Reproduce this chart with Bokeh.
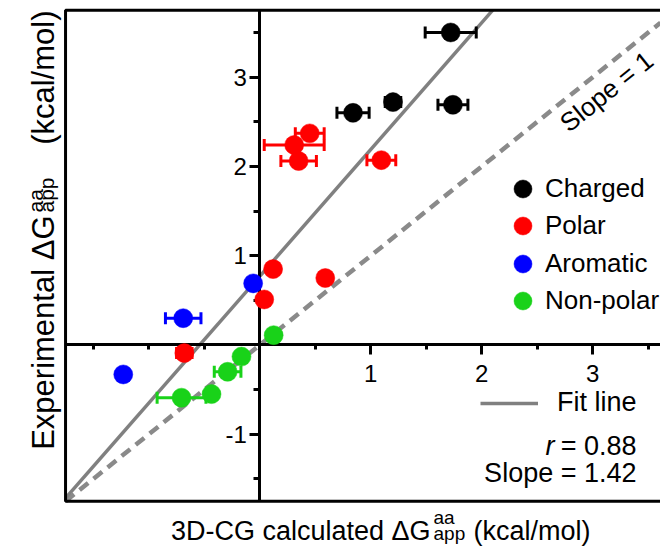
import math
from bokeh.plotting import figure
from bokeh.models import (ColumnDataSource, Range1d, LinearAxis, FixedTicker, Whisker,
                          TeeHead, BoxAnnotation, Legend, LegendItem, Label)
from bokeh.core.properties import value
from bokeh.embed import file_html
from bokeh.resources import INLINE

FONT = "Liberation Sans"

# ---------------- data ----------------
groups = ["Charged", "Polar", "Aromatic", "Non-polar"]
colors = ["#000000", "#ff0000", "#0000ff", "#19d219"]

charged_x = [1.72, 1.20, 1.74, 0.84]
charged_y = [3.50, 2.72, 2.69, 2.60]
charged_err = [0.23, 0.07, 0.135, 0.145]

polar_x = [1.095, 0.45, 0.31, 0.35, 0.12, 0.59, 0.04, -0.68]
polar_y = [2.07, 2.37, 2.24, 2.06, 0.85, 0.75, 0.51, -0.09]
polar_err = [0.13, 0.13, 0.27, 0.16, 0.0, 0.0, 0.0, 0.07]

arom_x = [-0.06, -0.69, -1.23]
arom_y = [0.69, 0.30, -0.33]
arom_err = [0.0, 0.16, 0.0]

nonpolar_x = [0.125, -0.165, -0.29, -0.435, -0.705]
nonpolar_y = [0.11, -0.13, -0.30, -0.55, -0.59]
nonpolar_err = [0.0, 0.0, 0.12, 0.0, 0.22]

fit_slope = 1.42
fit_intercept = 0.77
fit_r = 0.88
identity_slope = 1

# plotting box (data limits) and the visible canvas range around it
x_lim = (-1.75, 3.75)
y_lim = (-1.75, 3.75)
x_view = (-2.336, 3.61)
y_view = (-2.268, 3.858)

x_major = [1, 2, 3]
x_minor = [-1.5, -1, -0.5, 0.5, 1.5, 2.5, 3.5]
y_major = [-1, 1, 2, 3]
y_minor = [-1.5, -0.5, 0.5, 1.5, 2.5, 3.5]

series = [
    (groups[0], colors[0], charged_x, charged_y, charged_err),
    (groups[1], colors[1], polar_x, polar_y, polar_err),
    (groups[2], colors[2], arom_x, arom_y, arom_err),
    (groups[3], colors[3], nonpolar_x, nonpolar_y, nonpolar_err),
]

W, H = 660, 547

# ---------------- figure ----------------
p = figure(width=W, height=H,
           x_range=Range1d(*x_view), y_range=Range1d(*y_view),
           output_backend="svg", toolbar_location=None,
           x_axis_location=None, y_axis_location=None,
           min_border=0, min_border_left=0, min_border_right=0,
           min_border_top=0, min_border_bottom=0)
p.outline_line_color = None
p.background_fill_color = "white"
p.border_fill_color = "white"
p.grid.visible = False

# frame box (left, top, bottom sides visible; right side lies off-canvas)
p.add_layout(BoxAnnotation(left=x_lim[0], right=x_lim[1], bottom=y_lim[0], top=y_lim[1],
                           fill_alpha=0, line_color="black", line_alpha=1.0, line_width=3,
                           level="underlay"))

# axes crossing at the origin
yax = LinearAxis(fixed_location=0, bounds=y_lim,
                 ticker=FixedTicker(ticks=y_major, minor_ticks=y_minor),
                 major_label_overrides={v: str(v) for v in y_major},
                 axis_line_width=3, axis_line_color="black",
                 major_tick_line_width=3, minor_tick_line_width=3,
                 major_tick_out=10, major_tick_in=0,
                 minor_tick_out=6, minor_tick_in=0,
                 major_label_standoff=3,
                 major_label_text_font=FONT, major_label_text_font_size="24px",
                 major_label_text_color="black")
p.add_layout(yax, "left")

xax = LinearAxis(fixed_location=0, bounds=x_lim,
                 ticker=FixedTicker(ticks=x_major, minor_ticks=x_minor),
                 major_label_overrides={v: str(v) for v in x_major},
                 axis_line_width=3, axis_line_color="black",
                 major_tick_line_width=3, minor_tick_line_width=3,
                 major_tick_out=10, major_tick_in=0,
                 minor_tick_out=5, minor_tick_in=0,
                 major_label_standoff=10,
                 major_label_text_font=FONT, major_label_text_font_size="24px",
                 major_label_text_color="black")
p.add_layout(xax, "below")

# reference lines (kept inside the box)
id_x = [x_lim[0], x_view[1]]
id_y = [identity_slope * v for v in id_x]
p.line(id_x, id_y, line_color="#8a8a8a", line_width=4.5, line_dash="11 7", level="underlay")

fit_x = [x_lim[0], (y_lim[1] - fit_intercept) / fit_slope]
fit_y = [fit_slope * v + fit_intercept for v in fit_x]
fit_line = p.line(fit_x, fit_y, line_color="#808080", line_width=3.5, level="underlay")

# points + error bars
renderers = []
for name, col, xs, ys, es in series:
    eb = [(x, y, e) for x, y, e in zip(xs, ys, es) if e > 0]
    if eb:
        src_e = ColumnDataSource(dict(y=[b[1] for b in eb],
                                      lo=[b[0] - b[2] for b in eb],
                                      hi=[b[0] + b[2] for b in eb]))
        p.add_layout(Whisker(source=src_e, base="y", lower="lo", upper="hi",
                             dimension="width", line_color=col, line_width=3,
                             upper_head=TeeHead(size=12, line_color=col, line_width=3),
                             lower_head=TeeHead(size=12, line_color=col, line_width=3),
                             level="underlay"))
    src = ColumnDataSource(dict(x=xs, y=ys))
    r = p.scatter("x", "y", source=src, size=19, fill_color=col, line_color=col,
                  line_width=0.5, level="overlay")
    renderers.append((name, r))

# legend: one entry per row so that the marker size and row pitch both match
row_centers = [188, 225.5, 263, 300.5]
for (n, r), cy in zip(renderers, row_centers):
    p.add_layout(Legend(items=[LegendItem(label=value(n), renderers=[r])],
                        location=(500, H - (cy + 22.5)),
                        glyph_width=45, glyph_height=45, padding=0, margin=0,
                        label_standoff=0, label_text_font=FONT,
                        label_text_font_size="26px", label_text_color="black",
                        border_line_color=None, background_fill_alpha=0))

p.add_layout(Legend(items=[LegendItem(label=value("Fit line"), renderers=[fit_line])],
                    location=(480, 129), glyph_width=58, glyph_height=30, padding=0, margin=0,
                    label_standoff=19, label_text_font=FONT, label_text_font_size="27px",
                    label_text_color="black",
                    border_line_color=None, background_fill_alpha=0))


# ---------------- texts ----------------
def lab(text, x, y, size, angle=0.0, align="left", baseline="alphabetic", style="normal"):
    p.add_layout(Label(x=x, y=H - y, x_units="screen", y_units="screen", text=text,
                       text_font=FONT, text_font_size=f"{size}px", text_font_style=style,
                       text_color="black", angle=angle, text_align=align,
                       text_baseline=baseline))


# x title
lab("3D-CG calculated \u0394G", 430, 530, 27, align="right")
lab("aa", 433, 517, 19)
lab("app", 433, 533, 19)
lab("(kcal/mol)", 473, 530, 27)

# y title (rotated)
ha = math.pi / 2
lab("Experimental \u0394G", 43, 215, 31, angle=ha, align="right")
lab("aa", 35, 212, 21, angle=ha)
lab("app", 46, 212, 21, angle=ha)
lab("(kcal/mol)", 43, 10, 31, angle=ha, align="right")

# stats
lab("r", 554, 445, 27, align="right", style="italic")
lab(f"= {fit_r:.2f}", 636, 445, 27, align="right")
lab(f"Slope = {fit_slope:.2f}", 636, 472, 27, align="right")

# slope = 1 annotation
lab(f"Slope = {identity_slope}", 606, 91, 26, angle=0.677,
    align="center", baseline="middle")

open("out.html", "w").write(file_html(p, INLINE))
